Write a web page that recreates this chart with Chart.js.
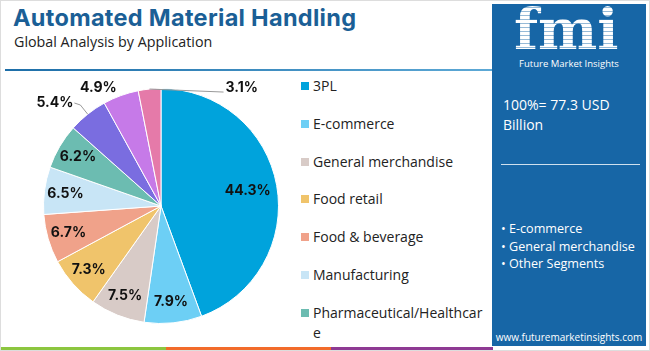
<!DOCTYPE html>
<html>
<head>
    <title>Automated Material Handling</title>
    <script src="https://cdn.jsdelivr.net/npm/chart.js"></script>
    <style>
        body {
            margin: 0;
            font-family: "Open Sans", sans-serif;
        }
        .frame {
            position: relative;
            width: 648px;
            height: 349px;
            border: 1px solid #ddd;
            overflow: hidden;
            background: #fff;
        }
        .title {
            position: absolute;
            left: 12px;
            top: 2px;
            font: 700 23.5px Inter, sans-serif;
            color: #1b5f96;
            letter-spacing: 0.3px;
        }
        .subtitle {
            position: absolute;
            left: 13px;
            top: 31px;
            font-size: 14.3px;
            color: #222;
        }
        .rule {
            position: absolute;
            left: 4px;
            top: 68px;
            width: 487px;
            height: 2px;
            background: linear-gradient(to right, #1d6ea8, #5da9d6);
        }
        .pie {
            position: absolute;
            left: 30px;
            top: 75px;
            width: 260px;
            height: 260px;
        }
        .legend {
            position: absolute;
            left: 298px;
            top: 75px;
            width: 190px;
            height: 269px;
            overflow: hidden;
        }
        .legend div {
            position: relative;
            padding-left: 14px;
            height: 37.8px;
            font-size: 14px;
            line-height: 20px;
            color: #222;
            word-break: break-all;
        }
        .legend span {
            position: absolute;
            left: 2px;
            top: 6px;
            width: 8px;
            height: 8px;
        }
        .panel {
            position: absolute;
            left: 491px;
            top: 3px;
            width: 154px;
            height: 342px;
            background: #1766a6;
            color: #fff;
        }
        .logo {
            position: absolute;
            left: 22px;
            top: -8px;
            font: 900 56px "DejaVu Serif", serif;
            background: repeating-linear-gradient(to bottom, #fff 0 3px, rgba(255,255,255,0.55) 3px 4px);
            -webkit-background-clip: text;
            color: transparent;
        }
        .logo-sub {
            position: absolute;
            left: 0;
            width: 154px;
            top: 53px;
            text-align: center;
            font-size: 9.5px;
        }
        .total {
            position: absolute;
            left: 11px;
            top: 91px;
            font-size: 14px;
            line-height: 20px;
        }
        .panel-rule {
            position: absolute;
            left: 9px;
            top: 160px;
            width: 139px;
            height: 1px;
            background: #cfe0ee;
        }
        .segments {
            position: absolute;
            left: 9px;
            top: 216px;
            font-size: 12.6px;
            line-height: 17.5px;
        }
        .url {
            position: absolute;
            left: 0;
            width: 154px;
            top: 326px;
            text-align: center;
            font-size: 10px;
        }
        .bar {
            position: absolute;
            top: 346px;
            height: 3px;
        }
    </style>
</head>
<body>
<div class="frame">
    <div class="title">Automated Material Handling</div>
    <div class="subtitle">Global Analysis by Application</div>
    <div class="rule"></div>

    <div class="pie"><canvas id="pieChart" width="260" height="260"></canvas></div>
    <div class="legend" id="legend"></div>

    <div class="panel">
        <div class="logo">fmi</div>
        <div class="logo-sub">Future Market Insights</div>
        <div class="total">100%= 77.3 USD<br>Billion</div>
        <div class="panel-rule"></div>
        <div class="segments">• E-commerce<br>• General merchandise<br>• Other Segments</div>
        <div class="url">www.futuremarketinsights.com</div>
    </div>

    <div class="bar" style="left:0;width:165px;background:#8cc63f"></div>
    <div class="bar" style="left:165px;width:165px;background:#f26b2a"></div>
    <div class="bar" style="left:330px;width:162px;background:#8e3a93"></div>
</div>

<script>
const applications = ['3PL', 'E-commerce', 'General merchandise', 'Food retail', 'Food & beverage',
    'Manufacturing', 'Pharmaceutical/Healthcare', 'Automotive', 'Electronics', 'Others'];
const shares = [44.3, 7.9, 7.5, 7.3, 6.7, 6.5, 6.2, 5.4, 4.9, 3.1];
const colors = ['#00a3dc', '#6dcff5', '#d8cbc7', '#f0c46b', '#f0a28a',
    '#c8e5f6', '#6cbcb1', '#7a6de0', '#c67ae8', '#e57aa9'];

// legend (the box clips after the seventh entry, like the original)
const legend = document.getElementById('legend');
applications.forEach((name, i) => {
    const row = document.createElement('div');
    row.innerHTML = '<span style="background:' + colors[i] + '"></span>' + name;
    legend.appendChild(row);
});

const sliceLabels = {
    id: 'sliceLabels',
    afterDatasetsDraw(chart) {
        const ctx = chart.ctx;
        const arcs = chart.getDatasetMeta(0).data;
        ctx.save();
        ctx.font = 'bold 14px Inter, sans-serif';
        ctx.fillStyle = '#111';
        ctx.strokeStyle = '#999';
        ctx.lineWidth = 1;
        ctx.textBaseline = 'middle';
        arcs.forEach((arc, i) => {
            const text = shares[i].toFixed(1) + '%';
            const mid = (arc.startAngle + arc.endAngle) / 2;
            const r = arc.outerRadius;
            const ex = arc.x + Math.cos(mid) * r;
            const ey = arc.y + Math.sin(mid) * r;
            if (shares[i] >= 6) {
                const k = i === 0 ? 0.75 : 0.82;
                ctx.textAlign = 'center';
                ctx.fillText(text, arc.x + Math.cos(mid) * r * k, arc.y + Math.sin(mid) * r * k);
            } else if (i === arcs.length - 1) {
                // smallest slice: long leader to the right
                ctx.beginPath();
                ctx.moveTo(ex, ey);
                ctx.lineTo(ex + 74, ey + 3);
                ctx.stroke();
                ctx.textAlign = 'left';
                ctx.fillText(text, ex + 76, ey - 1);
            } else if (shares[i] > 5) {
                const bx = arc.x + Math.cos(mid) * r * 1.1;
                const by = arc.y + Math.sin(mid) * r * 1.1;
                ctx.beginPath();
                ctx.moveTo(ex, ey);
                ctx.lineTo(bx, by);
                ctx.lineTo(bx - 6, by - 2);
                ctx.stroke();
                ctx.textAlign = 'right';
                ctx.fillText(text, bx - 7, by - 2);
            } else {
                ctx.textAlign = 'right';
                ctx.fillText(text, ex - 4, ey - 8);
            }
        });
        ctx.restore();
    }
};

new Chart(document.getElementById('pieChart'), {
    type: 'pie',
    data: {
        labels: applications,
        datasets: [{
            data: shares,
            backgroundColor: colors,
            borderColor: '#fff',
            borderWidth: 1
        }]
    },
    options: {
        responsive: false,
        animation: false,
        layout: { padding: 12 },
        plugins: {
            legend: { display: false },
            tooltip: { enabled: false }
        }
    },
    plugins: [sliceLabels]
});
</script>
</body>
</html>
